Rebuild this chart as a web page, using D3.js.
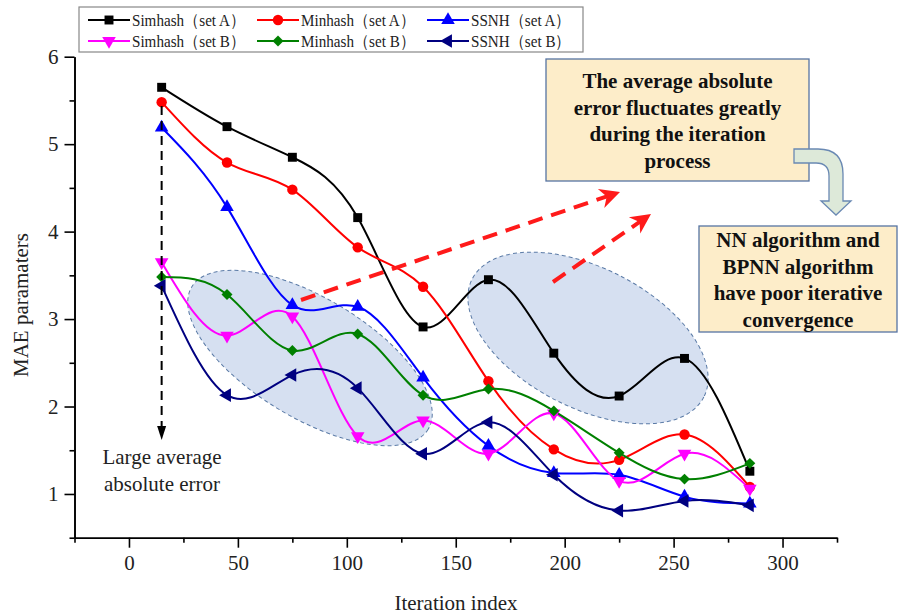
<!DOCTYPE html>
<html>
<head>
<meta charset="utf-8">
<script src="https://cdn.jsdelivr.net/npm/d3@7"></script>
<style>
  body { margin: 0; background: #fff; }
  text { font-family: "Liberation Serif", "Times New Roman", serif; }
</style>
</head>
<body>
<div id="chart"></div>
<script>
// values
var iterations = [15, 45, 75, 105, 135, 165, 195, 225, 255, 285];
var simhashA = [5.65, 5.20, 4.85, 4.16, 2.91, 3.45, 2.61, 2.12, 2.55, 1.26];
var minhashA = [5.48, 4.79, 4.48, 3.82, 3.37, 2.29, 1.51, 1.39, 1.68, 1.08];
var ssnhA    = [5.19, 4.28, 3.16, 3.14, 2.33, 1.55, 1.24, 1.22, 0.97, 0.89];
var simhashB = [3.65, 2.81, 3.03, 1.66, 1.84, 1.46, 1.92, 1.15, 1.46, 1.06];
var minhashB = [3.48, 3.28, 2.64, 2.83, 2.13, 2.20, 1.95, 1.47, 1.17, 1.35];
var ssnhB    = [3.38, 2.13, 2.36, 2.21, 1.46, 1.82, 1.22, 0.81, 0.92, 0.87];

var seriesNames = ["Simhash（set A）", "Minhash（set A）", "SSNH（set A）",
                   "Simhash（set B）", "Minhash（set B）", "SSNH（set B）"];
var xTicks = [0, 50, 100, 150, 200, 250, 300];
var yTicks = [1, 2, 3, 4, 5, 6];

var width = 901, height = 615;

var series = [
  {name: seriesNames[0], values: simhashA, color: "#000000", sym: d3.symbolSquare, size: 80, rot: 0},
  {name: seriesNames[1], values: minhashA, color: "#ff0000", sym: d3.symbolCircle, size: 85, rot: 0},
  {name: seriesNames[2], values: ssnhA, color: "#0000ff", sym: d3.symbolTriangle, size: 80, rot: 0},
  {name: seriesNames[3], values: simhashB, color: "#ff00ff", sym: d3.symbolTriangle, size: 80, rot: 180},
  {name: seriesNames[4], values: minhashB, color: "#008000", sym: d3.symbolSquare, size: 60, rot: 45},
  {name: seriesNames[5], values: ssnhB, color: "#000080", sym: d3.symbolTriangle, size: 80, rot: -90}
];

var svg = d3.select("#chart").append("svg")
    .attr("width", width)
    .attr("height", height);

var x = d3.scaleLinear().domain([-25, 325]).range([74.5, 837]);
var y = d3.scaleLinear().domain([0.5, 6]).range([537.7, 56.7]);

// shaded ellipses (behind lines)
var ellipses = [
  {cx: 310, cy: 358, rx: 138, ry: 60, angle: 31},
  {cx: 588, cy: 338, rx: 130, ry: 70, angle: 27}
];
svg.selectAll(".blob").data(ellipses).enter().append("ellipse")
    .attr("class", "blob")
    .attr("cx", 0).attr("cy", 0)
    .attr("rx", function(d){ return d.rx; })
    .attr("ry", function(d){ return d.ry; })
    .attr("transform", function(d){ return "translate(" + d.cx + "," + d.cy + ") rotate(" + d.angle + ")"; })
    .style("fill", "#d6e0f1")
    .style("stroke", "#5a7aa6")
    .style("stroke-width", 1)
    .style("stroke-dasharray", "4,3");

// axes
var gx = svg.append("g").attr("transform", "translate(0," + y.range()[0] + ")");
gx.call(d3.axisBottom(x).tickValues(xTicks).tickSize(10).tickSizeOuter(0).tickPadding(7));
var gxm = svg.append("g").attr("transform", "translate(0," + y.range()[0] + ")");
gxm.call(d3.axisBottom(x).tickValues(d3.range(-25, 326, 50)).tickSize(5).tickSizeOuter(0).tickFormat(""));

var gy = svg.append("g").attr("transform", "translate(" + x.range()[0] + ",0)");
gy.call(d3.axisLeft(y).tickValues(yTicks).tickSize(10).tickSizeOuter(0).tickPadding(6).tickFormat(d3.format("d")));
var gym = svg.append("g").attr("transform", "translate(" + x.range()[0] + ",0)");
gym.call(d3.axisLeft(y).tickValues(d3.range(0.5, 6, 1)).tickSize(5).tickSizeOuter(0).tickFormat(""));

svg.selectAll(".domain").style("stroke", "#000").style("stroke-width", 1.6);
svg.selectAll(".tick line").style("stroke", "#000").style("stroke-width", 1.6);
svg.selectAll(".tick text")
    .style("font-family", "'Liberation Serif', serif")
    .style("font-size", "21px")
    .style("fill", "#222");

svg.append("text")
    .attr("x", 456).attr("y", 610)
    .attr("text-anchor", "middle")
    .style("font-size", "21px").style("fill", "#222")
    .text("Iteration index");

svg.append("text")
    .attr("transform", "translate(28,305) rotate(-90)")
    .attr("text-anchor", "middle")
    .style("font-size", "21px").style("fill", "#222")
    .text("MAE paramaters");

// series lines and markers
var line = d3.line()
    .x(function(d, i){ return x(iterations[i]); })
    .y(function(d){ return y(d); })
    .curve(d3.curveNatural);

series.forEach(function(s){
  svg.append("path")
      .datum(s.values)
      .attr("d", line)
      .style("fill", "none")
      .style("stroke", s.color)
      .style("stroke-width", 2);
});
series.forEach(function(s){
  var sym = d3.symbol().type(s.sym).size(s.size);
  svg.selectAll(null).data(s.values).enter().append("path")
      .attr("d", sym)
      .attr("transform", function(d, i){
        return "translate(" + x(iterations[i]) + "," + y(d) + ") rotate(" + s.rot + ")";
      })
      .style("fill", s.color);
});

// black dashed arrow down from the first points
var ax = x(iterations[0]);
svg.append("line")
    .attr("x1", ax).attr("y1", 106)
    .attr("x2", ax).attr("y2", 428)
    .style("stroke", "#000").style("stroke-width", 2)
    .style("stroke-dasharray", "9,6");
svg.append("path")
    .attr("d", "M" + (ax - 4.5) + ",426L" + (ax + 4.5) + ",426L" + ax + ",440Z")
    .style("fill", "#000");

svg.append("text")
    .attr("x", 162).attr("y", 464)
    .attr("text-anchor", "middle")
    .style("font-size", "21px").style("fill", "#222")
    .text("Large average");
svg.append("text")
    .attr("x", 162).attr("y", 491)
    .attr("text-anchor", "middle")
    .style("font-size", "21px").style("fill", "#222")
    .text("absolute error");

// red dashed arrows
function redArrow(x1, y1, x2, y2){
  var ang = Math.atan2(y2 - y1, x2 - x1);
  var len = Math.sqrt((x2 - x1) * (x2 - x1) + (y2 - y1) * (y2 - y1));
  var g = svg.append("g")
      .attr("transform", "translate(" + x1 + "," + y1 + ") rotate(" + (ang * 180 / Math.PI) + ")");
  g.append("line")
      .attr("x1", 0).attr("y1", 0)
      .attr("x2", len - 8).attr("y2", 0)
      .style("stroke", "#ff1a1a").style("stroke-width", 4)
      .style("stroke-dasharray", "15,9");
  g.append("path")
      .attr("d", "M" + len + ",0L" + (len - 20) + ",-10L" + (len - 14) + ",0L" + (len - 20) + ",10Z")
      .style("fill", "#ff1a1a");
}
redArrow(301, 300, 620, 192);
redArrow(553, 282, 651, 214);

// annotation boxes
function noteBox(x0, y0, w, h, lines, baseline, step){
  svg.append("rect")
      .attr("x", x0).attr("y", y0)
      .attr("width", w).attr("height", h)
      .style("fill", "#fdedc9")
      .style("stroke", "#5674a3")
      .style("stroke-width", 1.3);
  lines.forEach(function(t, i){
    svg.append("text")
        .attr("x", x0 + w / 2).attr("y", baseline + i * step)
        .attr("text-anchor", "middle")
        .style("font-size", "21px").style("font-weight", "bold").style("fill", "#111")
        .text(t);
  });
}
noteBox(546, 59, 263, 122,
  ["The average absolute", "error fluctuates greatly", "during the iteration", "process"], 88, 26.5);

// bent arrow between boxes
svg.append("path")
    .attr("d", "M794,149L818,149Q843,149 843,174L843,201L851,201L836,215L821,201L829,201L829,176Q829,163 816,163L794,163Z")
    .style("fill", "#dde9d9")
    .style("stroke", "#6a89b3")
    .style("stroke-width", 1.3);

noteBox(699, 226, 198, 106,
  ["NN algorithm and", "BPNN algorithm", "have poor iterative", "convergence"], 247, 26.7);

// legend
var legend = svg.append("g");
legend.append("rect")
    .attr("x", 79).attr("y", 7)
    .attr("width", 504).attr("height", 45)
    .style("fill", "#fff")
    .style("stroke", "#888")
    .style("stroke-width", 1.2);
var colX = [88, 257, 427];
var rowY = [20, 41];
series.forEach(function(s, i){
  var lx = colX[i % 3], ly = rowY[Math.floor(i / 3)];
  legend.append("line")
      .attr("x1", lx).attr("y1", ly)
      .attr("x2", lx + 42).attr("y2", ly)
      .style("stroke", s.color).style("stroke-width", 2);
  legend.append("path")
      .attr("d", d3.symbol().type(s.sym).size(s.size)())
      .attr("transform", "translate(" + (lx + 21) + "," + ly + ") rotate(" + s.rot + ")")
      .style("fill", s.color);
  var t = legend.append("text")
      .attr("x", lx + 44).attr("y", ly + 6)
      .style("font-size", "17px").style("fill", "#222")
      .text(s.name);
  var w = t.node().getComputedTextLength();
  t.attr("textLength", w * 0.89).attr("lengthAdjust", "spacingAndGlyphs");
});
</script>
</body>
</html>
